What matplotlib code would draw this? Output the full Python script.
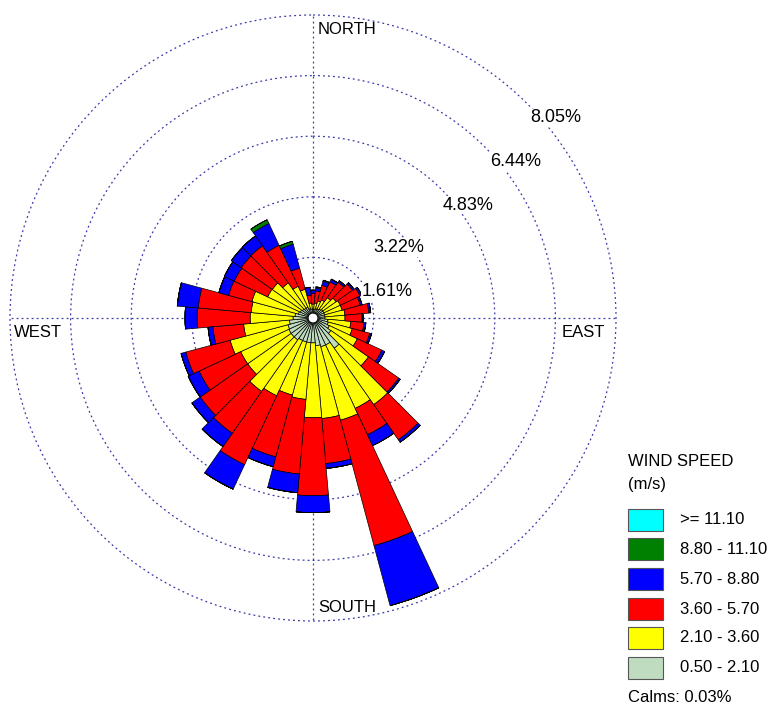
import matplotlib.pyplot as plt
import numpy as np
from matplotlib.patches import Rectangle

plt.rcParams['font.family'] = ['Liberation Sans', 'DejaVu Sans']

# wind directions (deg, clockwise from north), 36 sectors
directions = np.arange(0, 360, 10)

ws_050_210 = [0.11, 0.11, 0.13, 0.13, 0.16, 0.19, 0.19, 0.19, 0.19, 0.19,
              0.27, 0.29, 0.35, 0.45, 0.85, 0.66, 0.66, 0.61, 0.53, 0.53,
              0.53, 0.53, 0.58, 0.58, 0.58, 0.56, 0.50, 0.40, 0.35, 0.27,
              0.24, 0.21, 0.19, 0.19, 0.13, 0.11]
ws_210_360 = [0.13, 0.16, 0.21, 0.27, 0.37, 0.43, 0.48, 0.48, 0.53, 0.53,
              0.61, 0.66, 0.82, 1.22, 1.83, 1.86, 2.02, 1.94, 1.99, 1.51,
              1.46, 1.62, 1.67, 1.41, 1.41, 1.59, 1.22, 1.14, 1.17, 1.28,
              0.96, 0.98, 0.82, 0.61, 0.53, 0.16]
ws_360_570 = [0.29, 0.32, 0.43, 0.53, 0.50, 0.53, 0.58, 0.50, 0.64, 0.45,
              0.35, 0.48, 0.72, 0.98, 1.14, 0.77, 3.45, 1.20, 2.07, 1.99,
              1.70, 2.02, 1.36, 1.54, 1.22, 1.22, 0.82, 1.41, 1.41, 0.64,
              0.98, 1.01, 1.20, 1.20, 0.58, 0.21]
ws_570_880 = [0.08, 0.08, 0.11, 0.08, 0.05, 0.05, 0.05, 0.05, 0.05, 0.03,
              0.05, 0.05, 0.08, 0.05, 0.08, 0.32, 1.65, 0.13, 0.45, 0.50,
              0.27, 0.72, 0.43, 0.27, 0.32, 0.13, 0.13, 0.32, 0.56, 0.27,
              0.29, 0.32, 0.32, 0.64, 0.66, 0.21]
ws_880_1110 = [0.00, 0.03, 0.03, 0.00, 0.00, 0.00, 0.00, 0.00, 0.00, 0.00,
               0.00, 0.00, 0.00, 0.00, 0.00, 0.00, 0.00, 0.00, 0.00, 0.00,
               0.00, 0.00, 0.00, 0.00, 0.00, 0.00, 0.00, 0.00, 0.00, 0.00,
               0.00, 0.00, 0.00, 0.11, 0.08, 0.00]
ws_1110_up = [0.0] * 36

speed_classes = [ws_050_210, ws_210_360, ws_360_570, ws_570_880, ws_880_1110, ws_1110_up]
class_labels = ['0.50 - 2.10', '2.10 - 3.60', '3.60 - 5.70', '5.70 - 8.80', '8.80 - 11.10', '>= 11.10']
class_colors = ['#c0dcc0', '#ffff00', '#ff0000', '#0000ff', '#008000', '#00ffff']

rings = [1.61, 3.22, 4.83, 6.44, 8.05]
calms_pct = 0.03
hole = 0.13

W, H = 768, 707
cx, cy = 313, 318
rmax = 8.15
rpx = 303 / 8.05 * rmax   # pixel radius of the axes

fig = plt.figure(figsize=(W / 100, H / 100), dpi=100)
ax = fig.add_axes([(cx - rpx) / W, (H - cy - rpx) / H, 2 * rpx / W, 2 * rpx / H], polar=True)
ax.set_theta_zero_location('N')
ax.set_theta_direction(-1)
ax.set_ylim(0, rmax)

grid_kw = dict(color='#3a3aa8', linestyle=(0, (1.5, 2.5)), linewidth=0.9)
ax.set_yticks(rings)
ax.set_yticklabels([])
ax.set_xticks([])
ax.yaxis.grid(True, **grid_kw)
ax.spines['polar'].set_visible(False)
ax.set_axisbelow(True)
for t in [0, 90, 180, 270]:
    ax.plot([np.radians(t)] * 2, [hole, rings[-1]], zorder=0.5, **grid_kw)

theta = np.radians(directions)
bottom = np.full(36, hole)
for vals, col in zip(speed_classes, class_colors):
    vals = np.array(vals)
    ax.bar(theta, vals, width=np.radians(10), bottom=bottom, color=col,
           edgecolor='black', linewidth=0.5, zorder=2)
    bottom = bottom + vals

def ftext(x, y, s, **kw):
    fig.text(x / W, 1 - y / H, s, va='center', ha='left', **kw)

# compass labels
ftext(318, 29, 'NORTH', fontsize=12)
ftext(318, 608, 'SOUTH', fontsize=12)
ftext(14, 333, 'WEST', fontsize=12)
ftext(562, 333, 'EAST', fontsize=12)

# ring labels
ring_pos = [(362, 291), (373, 248), (443, 205), (490, 162), (530, 118)]
for v, (x, y) in zip(rings, ring_pos):
    ftext(x, y, f'{v:.2f}%', fontsize=13,
          bbox=dict(facecolor='white', edgecolor='none', pad=0.5))

# legend
ftext(628, 461, 'WIND SPEED', fontsize=12)
ftext(628, 484, '(m/s)', fontsize=12)
ys = [520, 549, 579, 609, 638, 668]
for y, lab, col in zip(ys, class_labels[::-1], class_colors[::-1]):
    fig.add_artist(Rectangle((628 / W, 1 - (y + 11) / H), 35 / W, 22 / H,
                             transform=fig.transFigure, facecolor=col,
                             edgecolor='#555555', linewidth=0.8))
    ftext(680, y, lab, fontsize=12)
ftext(628, 697, f'Calms: {calms_pct:.2f}%', fontsize=12)

fig.savefig('out.png', dpi=100)
